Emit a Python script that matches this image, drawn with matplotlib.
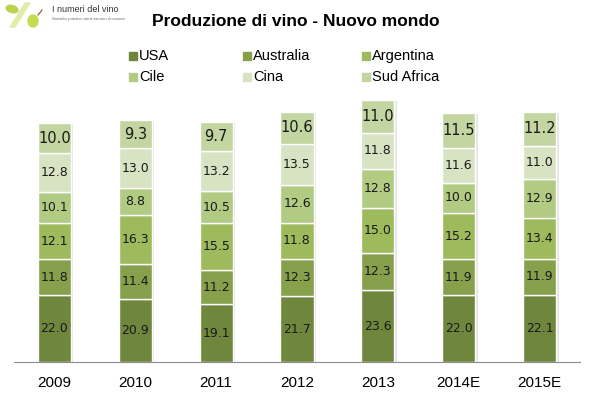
import matplotlib.pyplot as plt
import matplotlib.patches as mpatches
import numpy as np

# data (milioni di ettolitri)
anni = ["2009", "2010", "2011", "2012", "2013", "2014E", "2015E"]
paesi = ["USA", "Australia", "Argentina", "Cile", "Cina", "Sud Africa"]
usa = [22.0, 20.9, 19.1, 21.7, 23.6, 22.0, 22.1]
australia = [11.8, 11.4, 11.2, 12.3, 12.3, 11.9, 11.9]
argentina = [12.1, 16.3, 15.5, 11.8, 15.0, 15.2, 13.4]
cile = [10.1, 8.8, 10.5, 12.6, 12.8, 10.0, 12.9]
cina = [12.8, 13.0, 13.2, 13.5, 11.8, 11.6, 11.0]
sud_africa = [10.0, 9.3, 9.7, 10.6, 11.0, 11.5, 11.2]

serie = [usa, australia, argentina, cile, cina, sud_africa]
colori = ["#6f873c", "#86a04c", "#9dba5c", "#b1cb83", "#d8e3c4", "#c3d5a0"]

plt.rcParams['font.family'] = ['Liberation Sans', 'DejaVu Sans']

W, H = 594, 397
fig = plt.figure(figsize=(W / 100, H / 100), dpi=100)
ax = fig.add_axes([14 / W, 35 / H, 566 / W, 273 / H])

x = np.arange(len(anni))
w = 0.41
bottom = np.zeros(len(anni))
for i, (vals, c) in enumerate(zip(serie, colori)):
    vals = np.array(vals)
    # leggera ombra a destra
    ax.bar(x + 0.03, vals, w, bottom=bottom - 0.5, color="#e6e6e6", zorder=1, linewidth=0)
    ax.bar(x, vals, w, bottom=bottom, color=c, edgecolor="white", linewidth=1.0, zorder=2)
    fs = 10.5 if i == len(serie) - 1 else 9
    for xi, b, v in zip(x, bottom, vals):
        ax.text(xi, b + v / 2, f"{v:.1f}", ha="center", va="center", fontsize=fs,
                color="#1a1a1a", zorder=3, family="DejaVu Sans")
    bottom += vals

ax.set_xlim(-0.5, len(anni) - 0.5)
ax.set_ylim(0, 90)
ax.set_xticks(x)
ax.set_xticklabels(anni, fontsize=11)
ax.tick_params(axis="x", length=0, pad=10)
ax.set_yticks([])
for s in ["top", "right", "left"]:
    ax.spines[s].set_visible(False)
ax.spines["bottom"].set_color("#8c8c8c")

fig.text(296 / W, 1 - 21 / H, "Produzione di vino - Nuovo mondo", ha="center", va="center",
         fontsize=12.5, fontweight="bold")

# legenda disposta per righe
leg_x = [133, 247, 366]
leg_y = [56, 77]
for k, (nome, c) in enumerate(zip(paesi, colori)):
    px = leg_x[k % 3]
    py = leg_y[k // 3]
    fig.patches.append(mpatches.Rectangle(((px - 4) / W, 1 - (py + 4) / H), 8 / W, 8 / H,
                                          color=c, transform=fig.transFigure))
    fig.text((px + 6) / W, 1 - py / H, nome, ha="left", va="center", fontsize=10.5)

# logo
lax = fig.add_axes([0, 1 - 30 / H, 130 / W, 30 / H])
lax.set_xlim(0, 130)
lax.set_ylim(30, 0)
lax.axis("off")
lax.add_patch(mpatches.Polygon([[10, 27], [15, 27], [30, 3], [25, 3]], color="#e2ecab"))
lax.add_patch(mpatches.Ellipse((12, 9), 12, 7, angle=15, color="#bcd24c"))
lax.add_patch(mpatches.Ellipse((33, 21), 10, 12, color="#c6da52"))
lax.plot([38, 42], [15, 10], color="#7a5a2a", lw=0.8)
lax.text(52, 10, "I numeri del vino", fontsize=6.5, color="#333333", va="center")
lax.text(52, 19, "Statistiche produttive, dati di mercato e di consumo", fontsize=2.3,
         color="#666666", va="center")

fig.savefig("out.png", dpi=100)
